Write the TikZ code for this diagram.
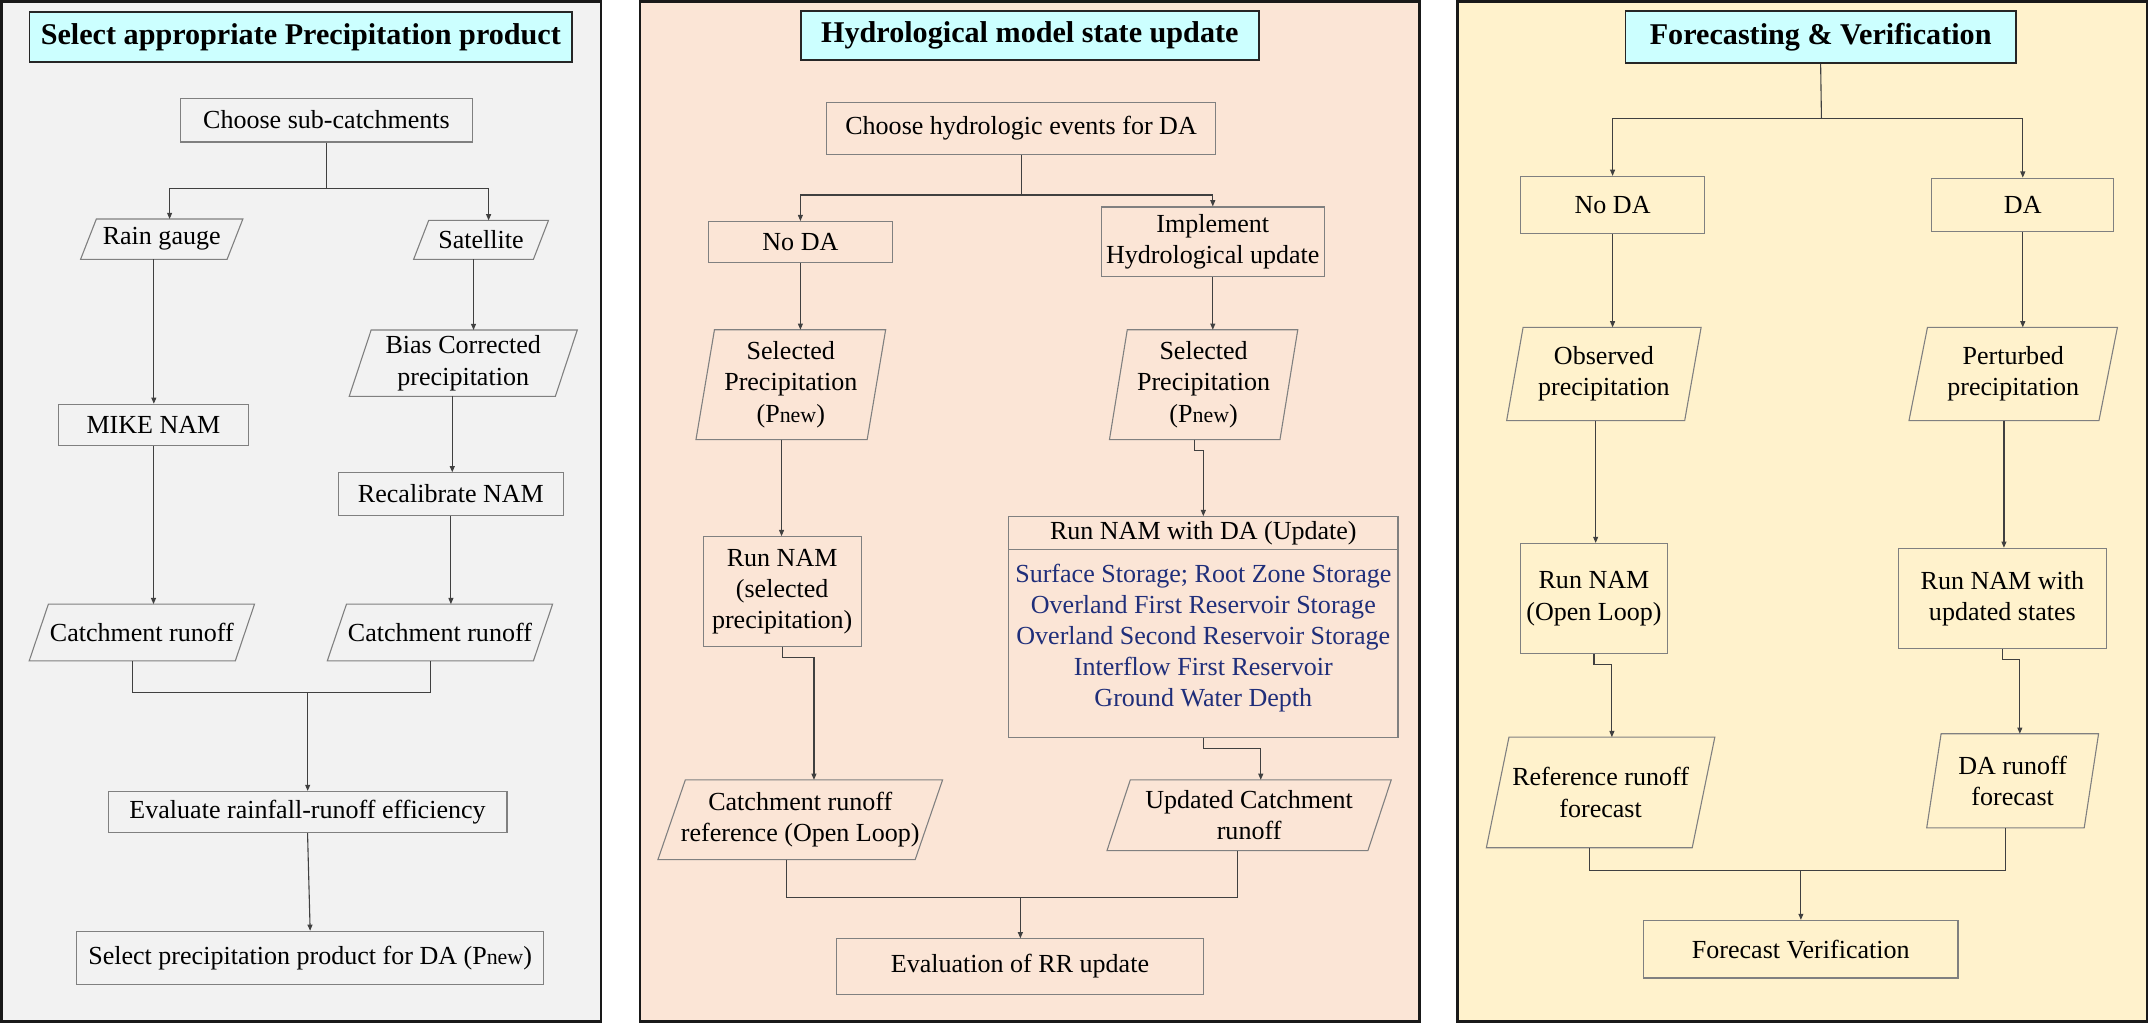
\documentclass[tikz,border=0pt]{standalone}
\usepackage{fontspec}
\setmainfont{Liberation Serif}
\usetikzlibrary{arrows.meta,calc}

\definecolor{panelL}{HTML}{F2F2F2}
\definecolor{panelM}{HTML}{FBE5D6}
\definecolor{panelR}{HTML}{FFF2CC}
\definecolor{titlefill}{HTML}{CCFFFF}
\definecolor{boxgray}{HTML}{808080}
\definecolor{linec}{HTML}{404040}
\definecolor{stateblue}{RGB}{31,46,122}

\tikzset{
  txt/.style={font=\fontsize{19}{22.7}\selectfont, align=center, inner sep=0pt, text=black},
  box/.style={txt, draw=boxgray, line width=0.8pt, rectangle},
  boxline/.style={draw=boxgray, line width=0.8pt},
  titlebox/.style={draw=black!85, line width=1.3pt, fill=titlefill,
    font=\fontsize{22}{26}\selectfont\bfseries, inner sep=0pt},
  panel/.style={draw=black!90, line width=2pt},
  conn/.style={draw=linec, line width=0.8pt},
  arr/.style={conn, -{Triangle[length=4.5pt,width=3.6pt]}},
}

% slanted data box: name, x, y, mid width, height, slant, text
\newcommand\databox[7]{%
  \node[txt, minimum width=#4, minimum height=#5] (#1) at (#2,#3) {#7};
  \draw[boxline] ([xshift=-#6/2]#1.south west) -- ([xshift=-#6/2]#1.south east)
    -- ([xshift=#6/2]#1.north east) -- ([xshift=#6/2]#1.north west) -- cycle;
  \coordinate (#1-t) at ([xshift=#6/2]#1.north);
  \coordinate (#1-b) at ([xshift=-#6/2]#1.south);
}
\newcommand\pnew{P{\fontsize{16}{19}\selectfont new}}

\begin{document}
\begin{tikzpicture}[x=1pt, y=-1pt]
\useasboundingbox (0,0) rectangle (1568,747);

% three panels
\draw[panel, fill=panelL] (1,1) rectangle (438.6,745.5);
\draw[panel, fill=panelM] (467,1) rectangle (1035.5,745.5);
\draw[panel, fill=panelR] (1063.5,1) rectangle (1566.5,745.5);

% ---------- Panel 1: precipitation product ----------
\node[titlebox, minimum width=396, minimum height=36] (t1) at (219.5,27) {Select appropriate Precipitation product};
\node[box, minimum width=213, minimum height=32] (c1) at (238.2,87.6) {Choose sub-catchments};
\databox{rain}{118}{174.5}{106.5}{29}{11.5}{Rain gauge}
\databox{sat}{351}{175}{87}{28}{11}{Satellite}
\node[box, minimum width=138, minimum height=30] (mike) at (112,310) {MIKE NAM};
\databox{bias}{338}{265}{150}{48}{16}{Bias Corrected\\precipitation}
\node[box, minimum width=164, minimum height=30.8] (recal) at (329,360.4) {Recalibrate NAM};
\databox{cr1}{103.5}{461.5}{150}{41}{14}{Catchment runoff}
\databox{cr2}{321}{461.5}{150}{41}{14}{Catchment runoff}
\node[box, minimum width=291, minimum height=30] (eval) at (224.4,592.5) {Evaluate rainfall-runoff efficiency};
\node[box, minimum width=341, minimum height=38.5] (sel) at (226.3,698.8) {Select precipitation product for DA (\pnew)};

\coordinate (b1) at (238.2,137.5);
\draw[conn] (c1.south) -- (b1);
\draw[arr] (b1) -| (rain-t);
\draw[arr] (b1) -| (sat-t);
\draw[arr] (rain-b) -- (rain-b |- mike.north);
\draw[arr] (sat-b) -- (sat-b |- bias-t);
\draw[arr] (bias-b) -- (bias-b |- recal.north);
\draw[arr] (mike.south) -- (mike.south |- cr1-t);
\draw[arr] (recal.south) -- (recal.south |- cr2-t);
\coordinate (j1) at (224.5,505);
\draw[conn] (cr1-b) |- (j1) -| (cr2-b);
\draw[arr] (j1) -- (j1 |- eval.north);
\draw[arr] (eval.south) -- (sel.north);

% ---------- Panel 2: model state update ----------
\node[titlebox, minimum width=334, minimum height=35.6] (t2) at (751.4,25.8) {Hydrological model state update};
\node[box, minimum width=284, minimum height=38] (c2) at (745,93.5) {Choose hydrologic events for DA};
\node[box, minimum width=134.7, minimum height=30] (noda1) at (584,176.7) {No DA};
\node[box, minimum width=163, minimum height=51] (impl) at (884.9,176.5) {Implement\\Hydrological update};
\databox{selL}{577}{280.7}{124.5}{79.8}{13.5}{Selected\\Precipitation\\(\pnew)}
\databox{selR}{878.2}{280.7}{124}{79.8}{13}{Selected\\Precipitation\\(\pnew)}
\node[box, minimum width=115.4, minimum height=79.8] (runL) at (570.7,431.5) {Run NAM\\(selected\\precipitation)};
\node[box, minimum width=284, minimum height=161] (runDA) at (878,457.5) {};
\draw[boxline] ([yshift=-24.4pt]runDA.north west) -- ([yshift=-24.4pt]runDA.north east);
\node[txt] (runDAh) at (878,389.2) {Run NAM with DA (Update)};
\node[txt, text=stateblue] (states) at (878,465.5) {Surface Storage; Root Zone Storage\\Overland First Reservoir Storage\\Overland Second Reservoir Storage\\Interflow First Reservoir\\Ground Water Depth};
\databox{crref}{583.9}{598.1}{187.3}{57.8}{20}{Catchment runoff\\reference (Open Loop)}
\databox{upd}{911.4}{594.8}{190}{51.2}{17}{Updated Catchment\\runoff}
\node[box, minimum width=267.3, minimum height=40.3] (evalRR) at (744.2,705.2) {Evaluation of RR update};

\coordinate (b2) at (745,142.3);
\draw[conn] (c2.south) -- (b2);
\draw[arr] (b2) -| (noda1.north);
\draw[arr] (b2) -| (impl.north);
\draw[arr] (noda1.south) -- (noda1.south |- selL-t);
\draw[arr] (impl.south) -- (impl.south |- selR-t);
\draw[arr] (selL-b) -- (selL-b |- runL.north);
\draw[arr] (selR-b) -- ++(0,7.8) -| (runDA.north);
\draw[arr] (runL.south) -- ++(0,8) -| (crref-t);
\draw[arr] (runDA.south) -- ++(0,7.8) -| (upd-t);
\coordinate (j2) at (744.5,655);
\draw[conn] (crref-b) |- (j2) -| (upd-b);
\draw[arr] (j2) -- (j2 |- evalRR.north);

% ---------- Panel 3: forecasting and verification ----------
\node[titlebox, minimum width=284.8, minimum height=38] (t3) at (1328.4,27) {Forecasting \& Verification};
\node[box, minimum width=134.4, minimum height=41.9] (noda2) at (1176.6,149.7) {No DA};
\node[box, minimum width=133, minimum height=39] (da) at (1475.9,149.5) {DA};
\databox{obs}{1170.25}{272.9}{129.5}{67.7}{12}{Observed\\precipitation}
\databox{pert}{1468.9}{272.9}{138.2}{67.7}{13.5}{Perturbed\\precipitation}
\node[box, minimum width=107.3, minimum height=80.5] (runOL) at (1163,436.8) {Run NAM\\(Open Loop)};
\node[box, minimum width=152, minimum height=73.3] (runUp) at (1461,436.7) {Run NAM with\\updated states};
\databox{ref}{1167.85}{578.2}{149.8}{80.3}{16.5}{Reference runoff\\forecast}
\databox{darun}{1468.5}{569.7}{114.5}{68.3}{10.5}{DA runoff\\forecast}
\node[box, minimum width=229.4, minimum height=42] (fv) at (1313.9,692.6) {Forecast Verification};

\coordinate (b3) at (1329,86.6);
\draw[conn] (t3.south) -- (b3);
\draw[arr] (b3) -| (noda2.north);
\draw[arr] (b3) -| (da.north);
\draw[arr] (noda2.south) -- (noda2.south |- obs-t);
\draw[arr] (da.south) -- (da.south |- pert-t);
\draw[arr] (obs-b) -- (obs-b |- runOL.north);
\draw[arr] (pert-b) -- (pert-b |- runUp.north);
\draw[arr] (runOL.south) -- ++(0,7.3) -| (ref-t);
\draw[arr] (runUp.south) -- ++(0,7.7) -| (darun-t);
\coordinate (j3) at (1314,635);
\draw[conn] (ref-b) |- (j3) -| (darun-b);
\draw[arr] (j3) -- (j3 |- fv.north);
\end{tikzpicture}
\end{document}
